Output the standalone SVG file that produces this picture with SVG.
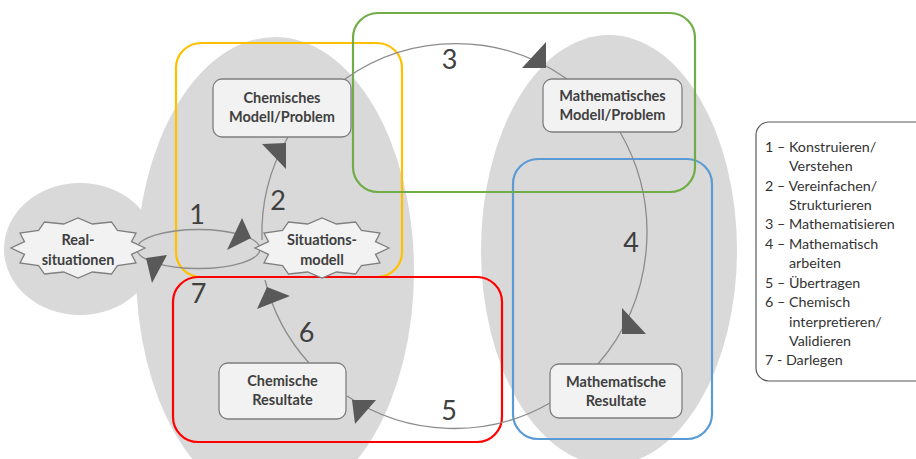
<svg xmlns="http://www.w3.org/2000/svg" xmlns:xlink="http://www.w3.org/1999/xlink" width="916" height="459" viewBox="0 0 916 459">
<defs>
<style>
.blob{fill:#d9d9d9;stroke:none}
.frame{fill:none;stroke-width:2.2}
.box{fill:#f2f2f2;stroke:#7f7f7f;stroke-width:1.3}
.star{fill:#f2f2f2;stroke:#7f7f7f;stroke-width:1.3}
.lbl{font-family:Lato,"Liberation Sans",sans-serif;font-weight:bold;font-size:14.5px;fill:#404040;text-anchor:middle}
.num{font-family:Lato,"Liberation Sans",sans-serif;font-size:27px;fill:#404040;text-anchor:middle}
.leg{font-family:Lato,"Liberation Sans",sans-serif;font-size:14.3px;fill:#333333}
.con{fill:none;stroke:#8c8c8c;stroke-width:1.3}
.head{fill:#595959;stroke:none}
</style>
<path id="star12" d="M67,0 L53.5,-6.4 L58,-15 L39.4,-17.6 L33.5,-26 L14.4,-24 L0,-30 L-14.4,-24 L-33.5,-26 L-39.4,-17.6 L-58,-15 L-53.5,-6.4 L-67,0 L-53.5,6.4 L-58,15 L-39.4,17.6 L-33.5,26 L-14.4,24 L0,30 L14.4,24 L33.5,26 L39.4,17.6 L58,15 L53.5,6.4 Z"/>
</defs>
<rect width="916" height="459" fill="#ffffff"/>
<g id="background">
<ellipse class="blob" cx="80" cy="249" rx="76" ry="66"/>
<ellipse class="blob" cx="275" cy="271" rx="139" ry="234"/>
<ellipse class="blob" cx="609" cy="250" rx="128" ry="215"/>
</g>
<g id="frames">
<rect class="frame" x="176" y="43" width="226" height="234" rx="25" stroke="#ffc000"/>
<rect class="frame" x="513" y="159" width="199" height="280" rx="25" stroke="#5b9bd5"/>
<rect class="frame" x="353" y="13" width="342" height="179" rx="25" stroke="#70ad47"/>
<rect class="frame" x="173" y="277" width="329" height="165" rx="25" stroke="#ff0000"/>
</g>
<g id="connectors">
<path class="con" d="M137,249 A61.5 19.5 0 0 1 260,249"/>
<path class="con" d="M260,249 A61.5 19.5 0 0 1 137,249"/>
<path class="con" d="M262,240 A191.5 191.5 0 0 1 288,137"/>
<path class="con" d="M309,363 A191.5 191.5 0 0 1 265,280"/>
<path class="con" d="M345,79 A192 192 0 0 1 567,79"/>
<path class="con" d="M620,132 A201 201 0 0 1 598,364"/>
<path class="con" d="M550,403 A193 193 0 0 1 347,396"/>
</g>
<g id="real-situationen">
<use xlink:href="#star12" href="#star12" class="star" transform="translate(78,248)"/>
<text class="lbl" x="78" y="245">Real-</text>
<text class="lbl" x="78" y="265">situationen</text>
</g>
<g id="situationsmodell">
<use xlink:href="#star12" href="#star12" class="star" transform="translate(322,248)"/>
<text class="lbl" x="322" y="245">Situations-</text>
<text class="lbl" x="322" y="265">modell</text>
</g>
<g id="arrowheads">
<polygon class="head" points="242,218 251,238 227,250"/>
<polygon class="head" points="146,258 167,255 152,283"/>
<polygon class="head" points="262,144 286,143 286,169"/>
<polygon class="head" points="267,287 290,296 257,309"/>
<polygon class="head" points="522,68 546,42 546,68"/>
<polygon class="head" points="622,308 646,334 622,334"/>
<polygon class="head" points="352,400 376,400 355,424"/>
</g>
<g id="chemisches-modell">
<rect class="box" x="213" y="79" width="138" height="58" rx="9"/>
<text class="lbl" x="282" y="103">Chemisches</text>
<text class="lbl" x="282" y="122">Modell/Problem</text>
</g>
<g id="mathematisches-modell">
<rect class="box" x="543" y="79" width="139" height="53" rx="9"/>
<text class="lbl" x="612.5" y="101">Mathematisches</text>
<text class="lbl" x="612.5" y="120">Modell/Problem</text>
</g>
<g id="mathematische-resultate">
<rect class="box" x="550" y="364" width="132" height="54" rx="9"/>
<text class="lbl" x="616" y="387">Mathematische</text>
<text class="lbl" x="616" y="406">Resultate</text>
</g>
<g id="chemische-resultate">
<rect class="box" x="219" y="363" width="127" height="56" rx="9"/>
<text class="lbl" x="282.5" y="386">Chemische</text>
<text class="lbl" x="282.5" y="405">Resultate</text>
</g>
<g id="numbers">
<text class="num" x="197" y="224">1</text>
<text class="num" x="278" y="210">2</text>
<text class="num" x="449.5" y="69">3</text>
<text class="num" x="631" y="252">4</text>
<text class="num" x="449" y="420">5</text>
<text class="num" x="306.5" y="342">6</text>
<text class="num" x="198.5" y="303">7</text>
</g>
<g id="legend">
<rect x="756" y="122" width="180" height="259" rx="13" fill="#ffffff" stroke="#595959" stroke-width="1.2"/>
<text class="leg" x="765" y="152">1 – Konstruieren/</text>
<text class="leg" x="789" y="171">Verstehen</text>
<text class="leg" x="765" y="191">2 – Vereinfachen/</text>
<text class="leg" x="789" y="210">Strukturieren</text>
<text class="leg" x="765" y="229">3 – Mathematisieren</text>
<text class="leg" x="765" y="249">4 – Mathematisch</text>
<text class="leg" x="789" y="268">arbeiten</text>
<text class="leg" x="765" y="288">5 – Übertragen</text>
<text class="leg" x="765" y="307">6 – Chemisch</text>
<text class="leg" x="789" y="327">interpretieren/</text>
<text class="leg" x="789" y="346">Validieren</text>
<text class="leg" x="765" y="365">7 - Darlegen</text>
</g>
</svg>
